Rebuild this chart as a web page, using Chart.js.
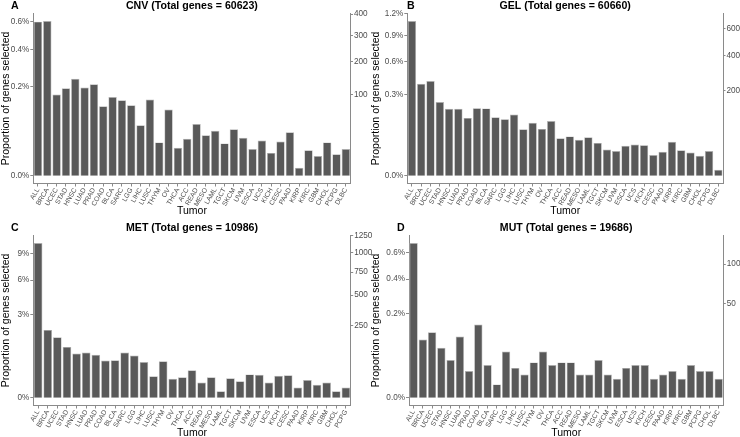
<!DOCTYPE html>
<html>
<head>
<meta charset="utf-8">
<script src="https://cdn.jsdelivr.net/npm/chart.js@4.4.1/dist/chart.umd.min.js"></script>
<style>
  html, body { margin: 0; padding: 0; background: #fff; overflow: hidden; }
  #page { position: relative; width: 740px; height: 437px; overflow: hidden; }
  canvas { position: absolute; }
</style>
</head>
<body>
<div id="page">
  <canvas id="cnvChart" width="385" height="218" style="left:0;top:0"></canvas>
  <canvas id="gelChart" width="385" height="218" style="left:370px;top:0"></canvas>
  <canvas id="metChart" width="385" height="218" style="left:0;top:222px"></canvas>
  <canvas id="mutChart" width="385" height="218" style="left:370px;top:222px"></canvas>
</div>
<script>
// genes selected per tumor type (counts)
const cnvTotal = 60623;
const cnvTumors = ['ALL','BRCA','UCEC','STAD','HNSC','LUAD','PRAD','COAD','BLCA','SARC','LGG','LIHC','LUSC','THYM','OV','THCA','ACC','READ','MESO','LAML','TGCT','SKCM','UVM','ESCA','UCS','KICH','CESC','PAAD','KIRP','KIRC','GBM','CHOL','PCPG','DLBC'];
const cnvCounts = [363,366,101,117,144,119,128,74,95,87,76,39,89,17,67,12,21,41,25,31,16,33,22,11,19,8,18,29,1,10,6,17,7,11];
const cnvPctTicks = [0, 0.2, 0.4, 0.6];
const cnvCountTicks = [100, 200, 300, 400];

const gelTotal = 60660;
const gelTumors = ['ALL','BRCA','UCEC','STAD','HNSC','LUAD','PRAD','COAD','BLCA','SARC','LGG','LIHC','LUSC','THYM','OV','THCA','ACC','READ','MESO','LAML','TGCT','SKCM','UVM','ESCA','UCS','KICH','CESC','PAAD','KIRP','KIRC','GBM','CHOL','PCPG','DLBC'];
const gelCounts = [665,235,249,151,125,125,93,127,126,95,89,104,60,78,61,83,39,43,36,41,30,19,17,25,27,26,12,16,32,18,15,11,17,1];
const gelPctTicks = [0, 0.3, 0.6, 0.9, 1.2];
const gelCountTicks = [200, 400, 600];

const metTotal = 10986;
const metTumors = ['ALL','BRCA','UCEC','STAD','HNSC','LUAD','PRAD','COAD','BLCA','SARC','LGG','LIHC','LUSC','THYM','OV','THCA','ACC','READ','MESO','LAML','TGCT','SKCM','UVM','ESCA','UCS','KICH','CESC','PAAD','KIRP','KIRC','GBM','CHOL','PCPG'];
const metCounts = [1138,219,174,123,93,97,88,66,67,97,85,61,22,63,17,20,36,11,20,2,18,13,26,25,11,23,24,5,15,8,11,2,5];
const metPctTicks = [0, 3, 6, 9];
const metCountTicks = [250, 500, 750, 1000, 1250];

const mutTotal = 19686;
const mutTumors = ['ALL','BRCA','UCEC','STAD','HNSC','LUAD','PRAD','COAD','BLCA','SARC','LGG','LIHC','LUSC','THYM','OV','THCA','ACC','READ','MESO','LAML','TGCT','SKCM','UVM','ESCA','UCS','KICH','CESC','PAAD','KIRP','KIRC','GBM','PCPG','CHOL','DLBC'];
const mutCounts = [134,19,24,14,8,21,4,30,6,1,12,5,3,7,12,6,7,7,3,3,8,3,2,5,6,6,2,3,4,2,6,4,4,2];
const mutPctTicks = [0, 0.2, 0.4, 0.6];
const mutCountTicks = [50, 100];

const axisGrey = '#8a8a8a';
const tickGrey = '#4d4d4d';
Chart.defaults.font.family = '"Liberation Sans", Arial, sans-serif';

// square-root axis, like ggplot's scale_y_sqrt
const sqrtT = v => Math.sign(v) * Math.sqrt(Math.abs(v));
class SqrtScale extends Chart.LinearScale {
  getPixelForValue(value) {
    const lo = sqrtT(this.min), hi = sqrtT(this.max);
    return this.getPixelForDecimal((sqrtT(value) - lo) / (hi - lo));
  }
  getValueForPixel(pixel) {
    const lo = sqrtT(this.min), hi = sqrtT(this.max);
    const s = lo + this.getDecimalForPixel(pixel) * (hi - lo);
    return Math.sign(s) * s * s;
  }
}
SqrtScale.id = 'sqrt';
SqrtScale.defaults = Chart.LinearScale.defaults;
Chart.register(SqrtScale);

const panelText = {
  id: 'panelText',
  afterDraw(chart, args, opts) {
    const { ctx, chartArea } = chart;
    ctx.save();
    ctx.fillStyle = '#000';
    ctx.textBaseline = 'middle';
    ctx.font = 'bold 10.6px "Liberation Sans", Arial, sans-serif';
    ctx.textAlign = 'center';
    ctx.fillText(opts.title, (chartArea.left + chartArea.right) / 2, 6.5);
    ctx.textAlign = 'left';
    ctx.fillText(opts.letter, opts.letterX, 6);
    ctx.restore();
  }
};

function makePanel(id, p) {
  // ggplot-style 5% expansion in sqrt space
  const s = Math.sqrt(Math.max(...p.counts));
  const cMax = Math.pow(1.05 * s, 2);
  const cMin = -Math.pow(0.05 * s, 2);
  const dec = p.pctTicks.every(v => Number.isInteger(v)) ? 0 : 1;

  new Chart(document.getElementById(id).getContext('2d'), {
    type: 'bar',
    data: {
      labels: p.tumors,
      datasets: [{
        data: p.counts,
        yAxisID: 'y2',
        backgroundColor: '#595959',
        borderColor: '#b5b5b5',
        borderWidth: 0.7,
        categoryPercentage: 0.9,
        barPercentage: 1
      }]
    },
    options: {
      responsive: false,
      animation: false,
      layout: { padding: { top: 13.3, left: 0, right: 0, bottom: 0 } },
      plugins: {
        legend: { display: false },
        tooltip: { enabled: false },
        panelText: { title: p.title, letter: p.letter, letterX: p.letterX }
      },
      scales: {
        x: {
          type: 'category',
          offset: true,
          grid: { offset: false, drawOnChartArea: false, tickLength: 3, color: axisGrey },
          border: { color: axisGrey, width: 1 },
          ticks: { autoSkip: false, minRotation: 60, maxRotation: 60, padding: 0, font: { size: 6.8 }, color: tickGrey },
          title: { display: true, text: 'Tumor', color: '#000', font: { size: 10.5 }, padding: { top: 0, bottom: 1 } },
          afterFit: sc => { sc.height = 34.5; }
        },
        y: {
          type: 'sqrt',
          position: 'left',
          min: cMin / p.total * 100,
          max: cMax / p.total * 100,
          grid: { drawOnChartArea: false, tickLength: 3, color: axisGrey },
          border: { color: axisGrey, width: 1 },
          ticks: { autoSkip: false, padding: 1, font: { size: 8.2 }, color: tickGrey,
                   callback: v => v.toFixed(dec) + '%' },
          title: { display: true, text: 'Proportion of genes selected', color: '#000', font: { size: 10.5 }, padding: { top: 0, bottom: 0 } },
          afterBuildTicks: sc => { sc.ticks = p.pctTicks.map(v => ({ value: v })); },
          afterFit: sc => { sc.width = p.leftWidth; }
        },
        y2: {
          type: 'sqrt',
          position: 'right',
          min: cMin,
          max: cMax,
          grid: { drawOnChartArea: false, tickLength: 2.5, color: axisGrey },
          border: { color: axisGrey, width: 1 },
          ticks: { autoSkip: false, padding: 1, font: { size: 8.2 }, color: tickGrey,
                   callback: v => String(v) },
          afterBuildTicks: sc => { sc.ticks = p.countTicks.map(v => ({ value: v })); },
          afterFit: sc => { sc.width = p.rightWidth; }
        }
      }
    },
    plugins: [panelText]
  });
}

makePanel('cnvChart', {
  title: 'CNV (Total genes = ' + cnvTotal + ')', letter: 'A', total: cnvTotal,
  tumors: cnvTumors, counts: cnvCounts, pctTicks: cnvPctTicks, countTicks: cnvCountTicks,
  leftWidth: 33.3, rightWidth: 34.5, letterX: 11
});
makePanel('gelChart', {
  title: 'GEL (Total genes = ' + gelTotal + ')', letter: 'B', total: gelTotal,
  tumors: gelTumors, counts: gelCounts, pctTicks: gelPctTicks, countTicks: gelCountTicks,
  leftWidth: 37.3, rightWidth: 32, letterX: 37
});
makePanel('metChart', {
  title: 'MET (Total genes = ' + metTotal + ')', letter: 'C', total: metTotal,
  tumors: metTumors, counts: metCounts, pctTicks: metPctTicks, countTicks: metCountTicks,
  leftWidth: 33.3, rightWidth: 34.3, letterX: 11
});
makePanel('mutChart', {
  title: 'MUT (Total genes = ' + mutTotal + ')', letter: 'D', total: mutTotal,
  tumors: mutTumors, counts: mutCounts, pctTicks: mutPctTicks, countTicks: mutCountTicks,
  leftWidth: 39, rightWidth: 31.7, letterX: 27
});
</script>
</body>
</html>
